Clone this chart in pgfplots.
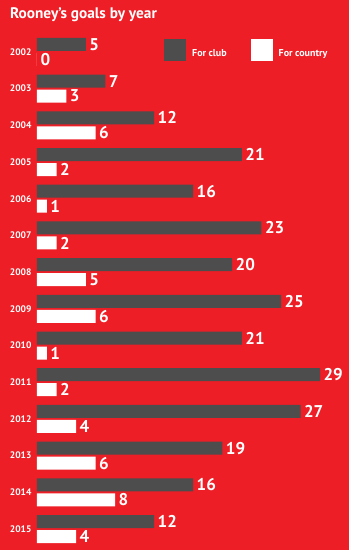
\documentclass[border=0pt]{standalone}
\usepackage{pgfplots}
\pgfplotsset{compat=1.18}
\usepackage{fontspec}
\setmainfont{PT Sans}
\definecolor{bgred}{RGB}{238,30,38}
\definecolor{club}{RGB}{77,77,77}
\begin{document}
\begin{tikzpicture}
\fill[bgred] (0pt,0pt) rectangle (349pt,550pt);
\useasboundingbox (0pt,0pt) rectangle (349pt,550pt);
\node[anchor=base west, text=white, font=\bfseries\fontsize{15.3}{17}\selectfont, inner sep=0] at (10pt,531pt) {Rooney's goals by year};
\begin{axis}[
 at={(37pt,2.6pt)}, anchor=south west,
 scale only axis, width=292.8pt, height=513.8pt,
 xmin=0, xmax=30, ymin=0.5, ymax=14.5,
 /pgf/number format/assume math mode=true,
 axis line style={draw=none}, tick style={draw=none}, major tick length=0pt,
 xtick=\empty,
 ytick={1,...,14},
 yticklabels={2015,2014,2013,2012,2011,2010,2009,2008,2007,2006,2005,2004,2003,2002},
 yticklabel style={text=white, font=\bfseries\fontsize{9.5}{10}\selectfont, anchor=east, xshift=-2pt},
 xbar, bar width=13pt,
 nodes near coords,
 every node near coord/.append style={text=white, font=\bfseries\fontsize{17}{17}\selectfont, anchor=west},
 legend style={at={(0.4337,0.99)}, anchor=north west, draw=none, fill=none, text=white,
   font=\bfseries\fontsize{10}{12}\selectfont, legend columns=2, inner sep=0pt,
   /tikz/every odd column/.append style={column sep=4pt},
   /tikz/every even column/.append style={column sep=22pt}},
 legend cell align=left,
 clip=false,
]
\addplot[fill=club, draw=none, bar shift=7.5pt,
  legend image code/.code={\fill[club] (0pt,-7.5pt) rectangle (22pt,14.5pt);}]
 coordinates {(5,14) (7,13) (12,12) (21,11) (16,10) (23,9) (20,8) (25,7) (21,6) (29,5) (27,4) (19,3) (16,2) (12,1)};
\addlegendentry{For club}
\addplot[fill=white, draw=none, bar shift=-7.5pt,
  legend image code/.code={\fill[white] (0pt,-7.5pt) rectangle (22pt,14.5pt);}]
 coordinates {(0,14) (3,13) (6,12) (2,11) (1,10) (2,9) (5,8) (6,7) (1,6) (2,5) (4,4) (6,3) (8,2) (4,1)};
\addlegendentry{For country}
\end{axis}
\end{tikzpicture}
\end{document}
